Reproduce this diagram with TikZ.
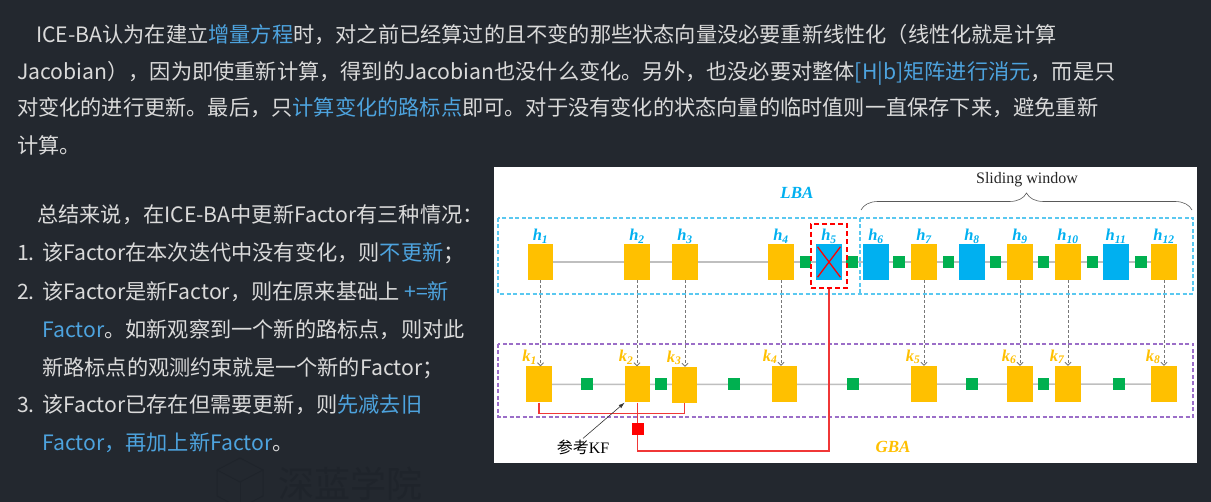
\documentclass[tikz,border=0pt]{standalone}
\usepackage{fontspec}
\newfontfamily\cjk{Noto Sans CJK SC}
\newfontfamily\dser{Liberation Serif}
\usetikzlibrary{arrows.meta,decorations.pathreplacing}
\definecolor{bg}{RGB}{35,40,47}
\definecolor{txt}{RGB}{218,218,218}
\definecolor{hlc}{RGB}{77,163,222}
\definecolor{kyel}{RGB}{255,192,0}
\definecolor{kblu}{RGB}{0,176,240}
\definecolor{kgrn}{RGB}{0,176,80}
\definecolor{kred}{RGB}{255,0,0}
\definecolor{lred}{RGB}{240,55,55}
\definecolor{cyd}{RGB}{90,200,240}
\definecolor{pud}{RGB}{155,110,200}
\definecolor{glc}{RGB}{191,191,191}
\definecolor{gac}{RGB}{120,120,120}
\definecolor{wmc}{RGB}{31,36,43}
\newcommand{\Bl}[1]{\textcolor{hlc}{#1}}
\pgfdeclarelayer{bgl}
\pgfsetlayers{bgl,main}
\begin{document}
\begin{tikzpicture}[x=1pt,y=-1pt,
  para/.style={anchor=base west, inner sep=0, text=txt, font=\cjk\fontsize{21.2}{25}\selectfont},
  yb/.style={fill=kyel, minimum width=25.5pt, minimum height=36pt, inner sep=0},
  bb/.style={fill=kblu, minimum width=25.5pt, minimum height=36pt, inner sep=0},
  gs/.style={fill=kgrn, minimum size=11.5pt, inner sep=0},
  hlabel/.style={font=\dser\bfseries\itshape\fontsize{16.5}{18}\selectfont, text=kblu, inner sep=0, anchor=base},
  klabel/.style={font=\dser\bfseries\itshape\fontsize{16.5}{18}\selectfont, text=kyel, inner sep=0, anchor=base east},
  gline/.style={draw=glc, line width=1.5pt},
  garrow/.style={draw=gac, line width=0.8pt, dash pattern=on 3pt off 2pt, -{Straight Barb[length=3pt,width=6pt]}},
  rline/.style={draw=lred, line width=1.6pt},
  cdash/.style={draw=cyd, line width=1.2pt, dash pattern=on 4pt off 2.5pt},
  pdash/.style={draw=pud, line width=1.2pt, dash pattern=on 4pt off 2.5pt},
  biglab/.style={font=\dser\bfseries\itshape\fontsize{17}{20}\selectfont, inner sep=0},
]
\useasboundingbox (0,0) rectangle (1211,502);
\begin{pgfonlayer}{bgl}
\fill[bg] (0,0) rectangle (1211,502);
\node[fill=white, minimum width=703pt, minimum height=296pt, inner sep=0, anchor=north west] (panel) at (493.5,167) {};
\end{pgfonlayer}

% ---------- text ----------
\node[para] (t1) at (36,42.5) {ICE-BA认为在建立\Bl{增量方程}时，对之前已经算过的且不变的那些状态向量没必要重新线性化（线性化就是计算};
\node[para] (t2) at (17,79.5) {Jacobian），因为即使重新计算，得到的Jacobian也没什么变化。另外，也没必要对整体\Bl{[H|b]矩阵进行消元}，而是只};
\node[para] (t3) at (17,116) {对变化的进行更新。最后，只\Bl{计算变化的路标点}即可。对于没有变化的状态向量的临时值则一直保存下来，避免重新};
\node[para] (t4) at (17,153.5) {计算。};

\node[para] (s0) at (37,222.5) {总结来说，在ICE-BA中更新Factor有三种情况：};
\node[para] (n1) at (17,260.5) {1.};
\node[para] (s1) at (42,260.5) {该Factor在本次迭代中没有变化，则\Bl{不更新}；};
\node[para] (n2) at (17,299.5) {2.};
\node[para] (s2) at (42,299.5) {该Factor是新Factor，则在原来基础上 \Bl{+=新}};
\node[para] (s3) at (42,337.5) {\Bl{Factor}。如新观察到一个新的路标点，则对此};
\node[para] (s4) at (42,375.5) {新路标点的观测约束就是一个新的Factor；};
\node[para] (n3) at (17,412.5) {3.};
\node[para] (s5) at (42,412.5) {该Factor已存在但需要更新，则\Bl{先减去旧}};
\node[para] (s6) at (42,450.5) {\Bl{Factor，再加上新Factor}。};

% faint watermark
\begin{scope}
\clip (0,0) rectangle (1211,502);
\node[anchor=base west, text=wmc, font=\cjk\fontsize{36}{40}\selectfont, inner sep=0] (wmk) at (278,497) {深蓝学院};
\draw[wmc, line width=1pt] (240,458) -- (263,470) -- (263,496) -- (240,508) -- (217,496) -- (217,470) -- cycle;
\draw[wmc, line width=1pt] (217,470) -- (240,482) -- (263,470);
\draw[wmc, line width=1pt] (240,482) -- (240,508);
\end{scope}

% ---------- dashed frames ----------
\draw[cdash] (498,218) rectangle (1193,294);
\draw[cdash] (860,218) -- (860,294);
\draw[pdash] (498,344) rectangle (1193,417);

% ---------- h row ----------
\node[yb] (h1) at (540.5,262) {};
\node[yb] (h2) at (637,262) {};
\node[yb] (h3) at (685,262) {};
\node[yb] (h4) at (781,262) {};
\node[bb] (h5) at (829,262) {};
\node[bb] (h6) at (876,262) {};
\node[yb] (h7) at (924,262) {};
\node[bb] (h8) at (972,262) {};
\node[yb] (h9) at (1020,262) {};
\node[yb] (h10) at (1068,262) {};
\node[bb] (h11) at (1116,262) {};
\node[yb] (h12) at (1164,262) {};
\node[gs] (g45) at (805.5,262) {};
\node[gs] (g56) at (852,262) {};
\node[gs] (g67) at (899,262) {};
\node[gs] (g78) at (948.5,262) {};
\node[gs] (g89) at (995.5,262) {};
\node[gs] (g910) at (1043.5,262) {};
\node[gs] (g1011) at (1092.5,262) {};
\node[gs] (g1112) at (1141,262) {};
\foreach \i in {1,...,12} {
  \node[hlabel] (lh\i) at ([yshift=3pt]h\i.north) {h\textsubscript{\i}};
}
\draw[kred, line width=1.3pt] ([shift={(1.5pt,-3pt)}]h5.north west) -- ([shift={(-1.5pt,3pt)}]h5.south east);
\draw[kred, line width=1.3pt] ([shift={(-1.5pt,-3pt)}]h5.north east) -- ([shift={(1.5pt,3pt)}]h5.south west);
\node[draw=kred, line width=1.2pt, dash pattern=on 5pt off 3pt, minimum width=36pt, minimum height=64pt, inner sep=0] (h5f) at (829,256) {};

% ---------- k row ----------
\node[yb] (k1) at (539,384.5) {};
\node[yb] (k2) at (637.5,384.5) {};
\node[yb] (k3) at (684.5,385) {};
\node[yb] (k4) at (784.5,384) {};
\node[yb] (k5) at (924,384) {};
\node[yb] (k6) at (1020,384) {};
\node[yb] (k7) at (1068,384) {};
\node[yb] (k8) at (1164,384) {};
\node[gs] (q1) at (587,384) {};
\node[gs] (q2) at (661,384) {};
\node[gs] (q3) at (734,384) {};
\node[gs] (q4) at (853,384) {};
\node[gs] (q5) at (972,384) {};
\node[gs] (q6) at (1043.5,384) {};
\node[gs] (q7) at (1119,384) {};

% arrows h -> k
\foreach \h/\k in {1/1,2/2,3/3,4/4,7/5,9/6,10/7,12/8} {
  \coordinate (a\k) at (h\h.south |- k\k.north);
  \draw[garrow] (h\h.south) -- (a\k);
  \node[klabel] (lk\k) at ([xshift=-3.5pt,yshift=4.5pt]a\k) {k\textsubscript{\k}};
}

% ---------- background lines ----------
\begin{pgfonlayer}{bgl}
\draw[gline] (h1.center) -- (h12.center);
\draw[gline] (k1.center) -- (k8.center);
\end{pgfonlayer}

% ---------- red links ----------
\coordinate (r1) at ([yshift=-11pt]k1.south);
\draw[rline] (k1.south) -- (r1) -| (k3.south);
\node[fill=kred, minimum size=12pt, inner sep=0] (rsq) at (637.5,429) {};
\draw[rline] (k2.south) -- (rsq.north);
\coordinate (r2) at (637.5,451);
\draw[rline] (rsq.south) -- (r2) -| (h5f.south);

% ---------- labels ----------
\node[biglab, text=kblu] (lba) at (797,193) {LBA};
\node[biglab, text=kyel] (gba) at (893,447) {GBA};
\node[font=\dser\fontsize{16}{18}\selectfont, text=black!85, inner sep=0] (sw) at (1027,180) {Sliding window};
\coordinate (bl) at (861,210);
\coordinate (br) at (1192,210);
\draw[draw=black!65, line width=0.6pt, decorate, decoration={brace, amplitude=17pt}] (bl) -- (br);
\node[font=\fontsize{16}{18}\selectfont, inner sep=1pt] (kf) at (583,447) {{\cjk 参考}{\dser KF}};
\draw[black!80, line width=0.6pt, -{Latex[length=6pt,width=4pt]}] (kf.north) -- (k2.south west);
\end{tikzpicture}
\end{document}
